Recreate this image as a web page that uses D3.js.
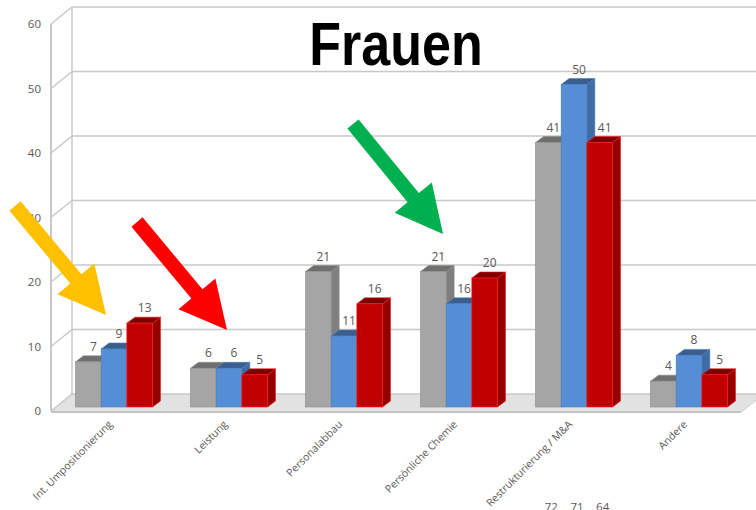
<!DOCTYPE html>
<html>
<head>
<meta charset="utf-8">
<script src="https://cdn.jsdelivr.net/npm/d3@7"></script>
<style>
  html, body { margin: 0; padding: 0; background: #fff; }
  svg { display: block; }
</style>
</head>
<body>
<svg id="chart" width="756" height="510"></svg>
<script>
// ---- data ----
const categories = ["Int. Umpositionierung", "Leistung", "Personalabbau", "Persönliche Chemie", "Restrukturierung / M&A", "Andere"];
const seriesNames = ["s1", "s2", "s3"];
const valuesS1 = [7, 6, 21, 21, 41, 4];
const valuesS2 = [9, 6, 11, 16, 50, 8];
const valuesS3 = [13, 5, 16, 20, 41, 5];
const yTicks = [0, 10, 20, 30, 40, 50, 60];
const titleText = "Frauen";
// labels of the next panel's Restrukturierung group, peeking in at the bottom edge
const nextPanelValues = [72, 71, 64];
const nextPanelCategory = "Restrukturierung / M&A";

// ---- style / geometry ----
const W = 756, H = 510;
const frontLeft = 51, frontRight = 741, front0 = 411, front60 = 24;
const wallDx = 21, wallDy = -17;          // depth of the chart box
const barOx = 5.5, barOy = -4;            // bars sit a little behind the front plane
const barDx = 8, barDy = -6;              // depth of each bar
const gridColor = "#c8c8c8";
const textColor = "#595959";
const palette = [
  { front: "#a5a5a5", top: "#6f6f6f", side: "#7f7f7f", stroke: "#8c8c8c" },
  { front: "#558ed5", top: "#3a5f8f", side: "#3f6ca5", stroke: "#4a7fc0" },
  { front: "#c00000", top: "#7a0000", side: "#930000", stroke: "#ff1a1a" }
];

const svg = d3.select("#chart");

const y = d3.scaleLinear().domain([0, 60]).range([front0, front60]);
const x0 = d3.scaleBand().domain(categories).range([frontLeft, frontRight]).paddingInner(0.33).paddingOuter(0.165);
const x1 = d3.scaleBand().domain(seriesNames).range([0, x0.bandwidth()]).padding(0);

const allSeries = [valuesS1, valuesS2, valuesS3];

// ---- back wall, side wall and floor ----
const walls = svg.append("g");

// floor
walls.append("polygon")
  .attr("points", [
    [frontLeft, y(0)], [frontRight, y(0)],
    [frontRight + wallDx, y(0) + wallDy], [frontLeft + wallDx, y(0) + wallDy]
  ].map(p => p.join(",")).join(" "))
  .attr("fill", "#e2e2e2");

// back-wall gridlines
walls.selectAll("line.grid").data(yTicks).join("line")
  .attr("class", "grid")
  .attr("x1", frontLeft + wallDx).attr("x2", W + 10)
  .attr("y1", d => y(d) + wallDy).attr("y2", d => y(d) + wallDy)
  .attr("stroke", gridColor).attr("stroke-width", 1.5);

// side-wall diagonals
walls.selectAll("line.diag").data(yTicks).join("line")
  .attr("class", "diag")
  .attr("x1", frontLeft).attr("x2", frontLeft + wallDx)
  .attr("y1", d => y(d)).attr("y2", d => y(d) + wallDy)
  .attr("stroke", gridColor).attr("stroke-width", 1.5);

// vertical edges of the side wall
walls.append("line")
  .attr("x1", frontLeft).attr("x2", frontLeft)
  .attr("y1", y(60)).attr("y2", y(0))
  .attr("stroke", gridColor).attr("stroke-width", 2);
walls.append("line")
  .attr("x1", frontLeft + wallDx).attr("x2", frontLeft + wallDx)
  .attr("y1", y(60) + wallDy).attr("y2", y(0) + wallDy)
  .attr("stroke", gridColor).attr("stroke-width", 1.5);

// floor front edge and right edge
walls.append("line")
  .attr("x1", frontLeft).attr("x2", frontRight)
  .attr("y1", y(0) + 1).attr("y2", y(0) + 1)
  .attr("stroke", "#c4c4c4").attr("stroke-width", 2);
walls.append("line")
  .attr("x1", frontRight).attr("x2", frontRight + wallDx)
  .attr("y1", y(0) + 1).attr("y2", y(0) + wallDy + 1)
  .attr("stroke", "#d4d4d4").attr("stroke-width", 1.5);

// y tick labels
svg.append("g").selectAll("text").data(yTicks).join("text")
  .attr("x", frontLeft - 10)
  .attr("y", d => y(d) + 4)
  .attr("text-anchor", "end")
  .attr("font-family", "Open Sans, sans-serif")
  .attr("font-size", 11.5)
  .attr("fill", textColor)
  .text(d => d);

// ---- bars ----
const barsG = svg.append("g");
const bw = x1.bandwidth();

categories.forEach((cat, ci) => {
  seriesNames.forEach((s, si) => {
    const v = allSeries[si][ci];
    const c = palette[si];
    const xl = x0(cat) + x1(s) + barOx;
    const xr = xl + bw;
    const yb = y(0) + barOy;
    const yt = y(v) + barOy;
    const g = barsG.append("g");
    // right side face
    g.append("polygon")
      .attr("points", [[xr, yb], [xr, yt], [xr + barDx, yt + barDy], [xr + barDx, yb + barDy]].map(p => p.join(",")).join(" "))
      .attr("fill", c.side).attr("stroke", c.stroke).attr("stroke-width", 0.6);
    // top face
    g.append("polygon")
      .attr("points", [[xl, yt], [xr, yt], [xr + barDx, yt + barDy], [xl + barDx, yt + barDy]].map(p => p.join(",")).join(" "))
      .attr("fill", c.top).attr("stroke", c.stroke).attr("stroke-width", 0.6);
    // front face
    g.append("rect")
      .attr("x", xl).attr("y", yt)
      .attr("width", bw).attr("height", yb - yt)
      .attr("fill", c.front).attr("stroke", c.stroke).attr("stroke-width", 0.6);
  });
});

// value labels
categories.forEach((cat, ci) => {
  seriesNames.forEach((s, si) => {
    const v = allSeries[si][ci];
    barsG.append("text")
      .attr("x", x0(cat) + x1(s) + barOx + bw / 2 + 5)
      .attr("y", y(v) + barOy + barDy - 5)
      .attr("text-anchor", "middle")
      .attr("font-family", "Open Sans, sans-serif")
      .attr("font-size", 12)
      .attr("fill", textColor)
      .text(v);
  });
});

// category labels
svg.append("g").selectAll("text").data(categories).join("text")
  .attr("transform", d => `translate(${x0(d) + x0.bandwidth() / 2 + barOx - 1},${y(0) + 14}) rotate(-45)`)
  .attr("text-anchor", "end")
  .attr("font-family", "Open Sans, sans-serif")
  .attr("font-size", 10.5)
  .attr("fill", textColor)
  .text(d => d);

// labels of the panel below, cut by the bottom edge
svg.append("g").selectAll("text").data(nextPanelValues).join("text")
  .attr("x", (d, i) => x0(nextPanelCategory) + x1(seriesNames[i]) + barOx + bw / 2 + 3)
  .attr("y", 511)
  .attr("text-anchor", "middle")
  .attr("font-family", "Open Sans, sans-serif")
  .attr("font-size", 11.5)
  .attr("fill", textColor)
  .text(d => d);

// ---- title ----
svg.append("text")
  .attr("transform", "translate(396,65) scale(1,1.16)")
  .attr("text-anchor", "middle")
  .attr("font-family", "Liberation Sans, Arial, sans-serif")
  .attr("font-weight", "bold")
  .attr("font-size", 52)
  .attr("fill", "#000")
  .text(titleText);

// ---- highlight arrows ----
const arrows = [
  { from: [15, 206], to: [106, 315], color: "#ffc000" },
  { from: [137, 222], to: [227, 330], color: "#ff0000" },
  { from: [353, 124], to: [443, 234], color: "#00b050" }
];
const shaftW = 14.5, headW = 48, headL = 47;

function arrowPath(a) {
  const [sx, sy] = a.from, [tx, ty] = a.to;
  const len = Math.hypot(tx - sx, ty - sy);
  const ux = (tx - sx) / len, uy = (ty - sy) / len;
  const nx = -uy, ny = ux;
  const bx = tx - ux * headL, by = ty - uy * headL;
  const pts = [
    [sx + nx * shaftW / 2, sy + ny * shaftW / 2],
    [bx + nx * shaftW / 2, by + ny * shaftW / 2],
    [bx + nx * headW / 2, by + ny * headW / 2],
    [tx, ty],
    [bx - nx * headW / 2, by - ny * headW / 2],
    [bx - nx * shaftW / 2, by - ny * shaftW / 2],
    [sx - nx * shaftW / 2, sy - ny * shaftW / 2]
  ];
  return d3.line()(pts) + "Z";
}

svg.append("g").selectAll("path").data(arrows).join("path")
  .attr("d", arrowPath)
  .attr("fill", d => d.color);
</script>
</body>
</html>
